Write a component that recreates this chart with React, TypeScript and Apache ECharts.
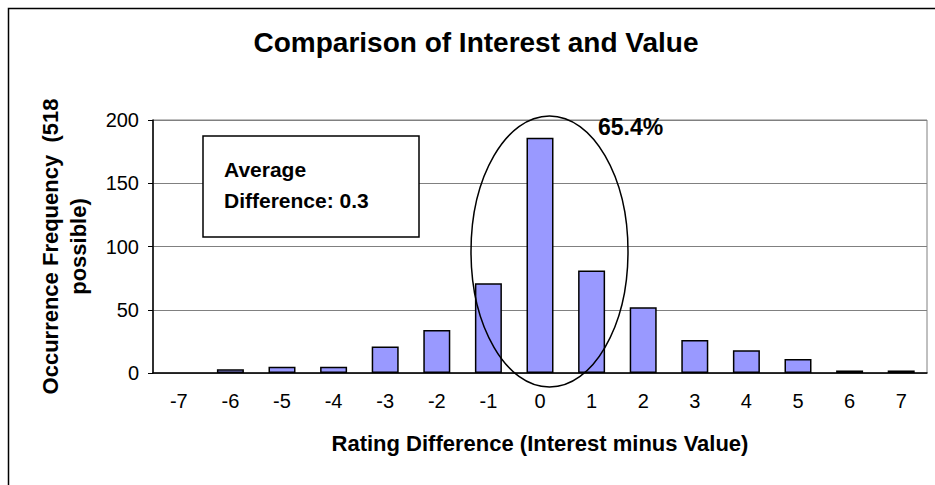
import React, { useEffect, useRef } from 'react';
import * as echarts from 'echarts';

const categories = ['-7', '-6', '-5', '-4', '-3', '-2', '-1', '0', '1', '2', '3', '4', '5', '6', '7'];
const frequency = [0, 3, 5, 5, 21, 34, 71, 186, 81, 52, 26, 18, 11, 2, 2];
const yMin = 0;
const yMax = 200;
const yInterval = 50;
const titleText = 'Comparison of Interest and Value';
const xAxisTitle = 'Rating Difference (Interest minus Value)';
const yAxisTitle = 'Occurrence Frequency  (518\npossible)';
const boxText = 'Average\nDifference: 0.3';
const centerShare = '65.4%';

const FONT = '"Liberation Sans", Arial, Helvetica, sans-serif';

export default function App() {
  const ref = useRef<HTMLDivElement>(null);

  useEffect(() => {
    document.body.style.margin = '0';
    if (!ref.current) return;
    const chart = echarts.init(ref.current, undefined, { renderer: 'svg' });
    const barData = frequency.map((v) =>
      v === 0 ? { value: v, itemStyle: { borderWidth: 0 } } : { value: v }
    );
    chart.setOption({
      animation: false,
      backgroundColor: '#ffffff',
      textStyle: { fontFamily: FONT },
      grid: {
        left: 153,
        right: 8,
        top: 120,
        bottom: 112,
        show: true,
        borderColor: '#808080',
        borderWidth: 1,
        backgroundColor: 'transparent',
      },
      xAxis: {
        type: 'category',
        data: categories,
        axisLine: { show: true, lineStyle: { color: '#000', width: 1.5 } },
        axisTick: { show: false },
        axisLabel: { color: '#000', fontSize: 20, fontFamily: FONT, margin: 18 },
        name: xAxisTitle,
        nameLocation: 'middle',
        nameGap: 59,
        nameTextStyle: { color: '#000', fontSize: 22, fontWeight: 'bold', fontFamily: FONT },
        splitLine: { show: false },
      },
      yAxis: {
        type: 'value',
        min: yMin,
        max: yMax,
        interval: yInterval,
        axisLine: { show: true, lineStyle: { color: '#000', width: 1.5 } },
        axisTick: { show: true, inside: false, length: 5, lineStyle: { color: '#000', width: 1 } },
        axisLabel: { color: '#000', fontSize: 20, fontFamily: FONT, margin: 14 },
        splitLine: { show: true, lineStyle: { color: '#808080', width: 1 } },
        name: yAxisTitle,
        nameLocation: 'middle',
        nameGap: 61,
        nameTextStyle: {
          color: '#000',
          fontSize: 22,
          fontWeight: 'bold',
          fontFamily: FONT,
          lineHeight: 28,
          align: 'center',
        },
      },
      series: [
        {
          type: 'bar',
          data: barData,
          barWidth: 27,
          itemStyle: { color: '#9999FF', borderColor: '#000', borderWidth: 1.5 },
          z: 2,
        },
      ],
      graphic: [
        {
          type: 'rect',
          shape: { x: 8.5, y: 8.5, width: 960, height: 520 },
          style: { fill: 'none', stroke: '#000', lineWidth: 1.5 },
          silent: true,
          z: 1,
        },
        {
          type: 'text',
          x: 476,
          y: 42,
          style: {
            text: titleText,
            fontSize: 28,
            fontWeight: 'bold',
            fontFamily: FONT,
            fill: '#000',
            align: 'center',
            verticalAlign: 'middle',
          },
          z: 10,
        },
        {
          type: 'rect',
          shape: { x: 203, y: 136, width: 216, height: 101 },
          style: { fill: '#fff', stroke: '#000', lineWidth: 1.5 },
          z: 10,
        },
        {
          type: 'text',
          x: 224,
          y: 185,
          style: {
            text: boxText,
            fontSize: 21,
            fontWeight: 'bold',
            fontFamily: FONT,
            fill: '#000',
            align: 'left',
            verticalAlign: 'middle',
            lineHeight: 31,
          },
          z: 11,
        },
        {
          type: 'text',
          x: 598,
          y: 127,
          style: {
            text: centerShare,
            fontSize: 23,
            fontWeight: 'bold',
            fontFamily: FONT,
            fill: '#000',
            align: 'left',
            verticalAlign: 'middle',
          },
          z: 11,
        },
        {
          type: 'ellipse',
          shape: { cx: 549.5, cy: 251.5, rx: 78.5, ry: 135.5 },
          style: { fill: 'none', stroke: '#000', lineWidth: 1.5 },
          z: 12,
        },
      ],
    });
    return () => chart.dispose();
  }, []);

  return (
    <div
      ref={ref}
      style={{ position: 'fixed', left: 0, top: 0, width: 935, height: 485 }}
    />
  );
}
